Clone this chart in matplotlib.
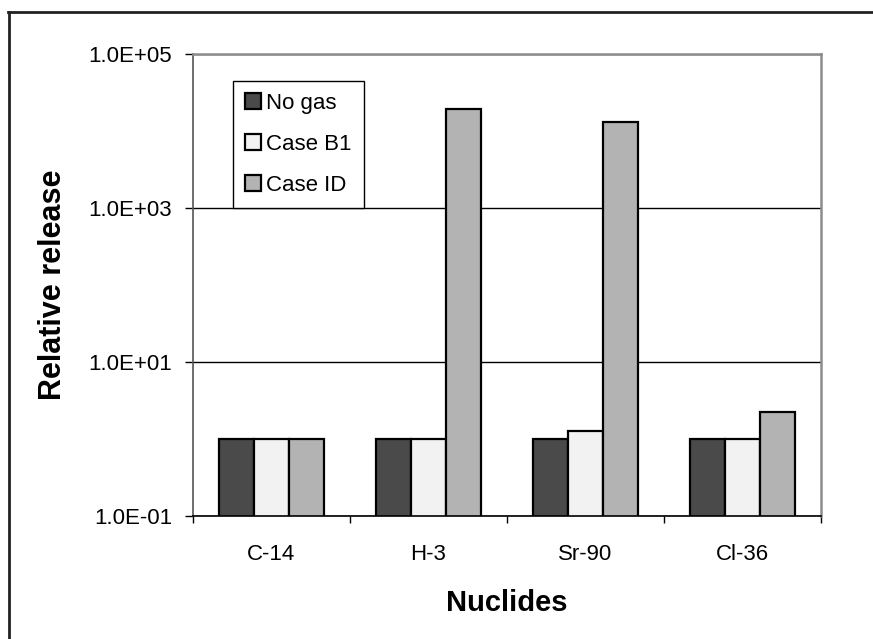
import matplotlib.pyplot as plt
from matplotlib.lines import Line2D
from matplotlib.ticker import FixedLocator, NullFormatter, FuncFormatter
import numpy as np

plt.rcParams['font.family'] = ['Liberation Sans', 'DejaVu Sans']

# Data
nuclides = ['C-14', 'H-3', 'Sr-90', 'Cl-36']
no_gas = [1.0, 1.0, 1.0, 1.0]
case_b1 = [1.0, 1.0, 1.3, 1.0]
case_id = [1.0, 1.97e4, 1.31e4, 2.28]
series_names = ['No gas', 'Case B1', 'Case ID']
series_colors = ['#4a4a4a', '#f2f2f2', '#b3b3b3']

fig = plt.figure(figsize=(8.73, 6.39), dpi=100)
ax = fig.add_axes([193 / 873, 1 - 516.3 / 639, (821 - 193) / 873, (516.3 - 54.2) / 639])

x = np.arange(len(nuclides))
w = 0.225
for i, (vals, name, col) in enumerate(zip([no_gas, case_b1, case_id], series_names, series_colors)):
    ax.bar(x + (i - 1) * w, vals, width=w, color=col, edgecolor='black',
           linewidth=1.6, label=name, zorder=3)

ax.set_yscale('log')
ax.set_ylim(0.1, 1e5)
ax.set_xlim(-0.5, 3.5)

# y ticks every two decades, Excel-style labels
ax.yaxis.set_major_locator(FixedLocator([1e-1, 1e1, 1e3, 1e5]))
ax.yaxis.set_minor_locator(FixedLocator([]))
ax.yaxis.set_major_formatter(FuncFormatter(lambda v, p: f'{v:.1E}'))
ax.tick_params(axis='y', which='major', direction='out', length=6, width=1,
               labelsize=16, pad=9, color='black')
ax.yaxis.grid(True, color='black', linewidth=1, zorder=0)

# x: labels at centers, tick marks at category boundaries
ax.set_xticks(x)
ax.set_xticklabels(nuclides)
ax.xaxis.set_minor_locator(FixedLocator(np.arange(-0.5, 4, 1.0)))
ax.xaxis.set_minor_formatter(NullFormatter())
ax.tick_params(axis='x', which='major', length=0, labelsize=16, pad=20)
ax.tick_params(axis='x', which='minor', direction='out', length=5, width=1, color='black')

for side in ['top', 'right']:
    ax.spines[side].set_color('#8c8c8c')
    ax.spines[side].set_linewidth(1.8)
ax.spines['left'].set_color('#555555')
ax.spines['left'].set_linewidth(1.2)
ax.spines['bottom'].set_color('black')
ax.spines['bottom'].set_linewidth(1.2)
ax.spines['bottom'].set_zorder(4)

ax.set_xlabel('Nuclides', fontsize=21, fontweight='bold', labelpad=17)
ax.set_ylabel('Relative release', fontsize=22, fontweight='bold', labelpad=15)

leg = ax.legend(loc='upper left', bbox_to_anchor=(39.5 / 628, 1 - 26.5 / 462), fontsize=16,
                frameon=True, fancybox=False, edgecolor='black', handlelength=0.75,
                handleheight=0.75, handletextpad=0.2, labelspacing=0.9,
                borderpad=0.55, borderaxespad=0)
leg.get_frame().set_linewidth(1.0)
leg.get_frame().set_alpha(1)

# outer chart frame (top and left edges visible)
fig.add_artist(Line2D([8 / 873, 1], [1 - 12 / 639, 1 - 12 / 639], transform=fig.transFigure,
                      color='#222222', linewidth=2))
fig.add_artist(Line2D([9 / 873, 9 / 873], [0, 1 - 12 / 639], transform=fig.transFigure,
                      color='#222222', linewidth=2))

fig.savefig('out.png', dpi=100)
